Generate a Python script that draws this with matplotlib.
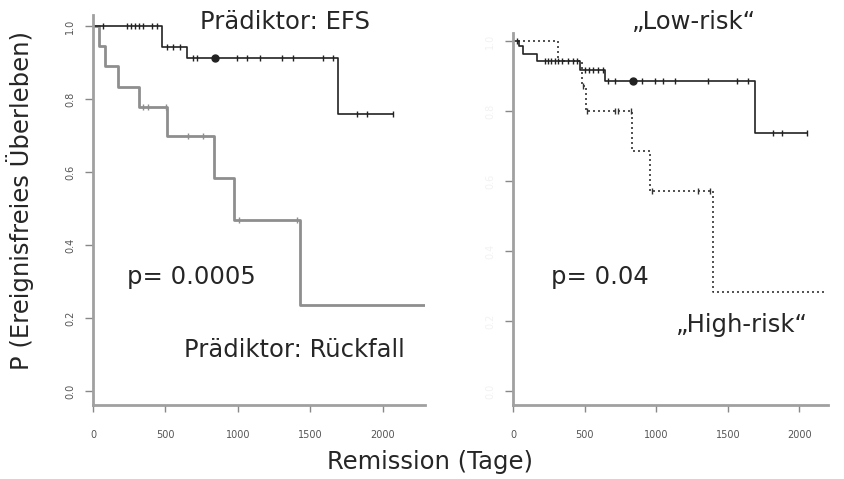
import numpy as np
import matplotlib
matplotlib.use('Agg')
import matplotlib.pyplot as plt

# Linkes Panel: Prädiktor EFS vs. Prädiktor Rückfall
efs_times = [0, 476, 648, 1690, 2069]
efs_surv = [1.0, 0.942, 0.912, 0.759, 0.759]
efs_cens = [69, 234, 262, 290, 317, 345, 407, 441, 510, 552, 600, 690, 717,
            993, 1062, 1152, 1303, 1379, 1586, 1655, 1821, 1890, 2069]
efs_blob = [841]

rel_times = [0, 38, 83, 172, 317, 510, 834, 972, 1428, 2290]
rel_surv = [1.0, 0.944, 0.889, 0.833, 0.778, 0.70, 0.584, 0.468, 0.236, 0.236]
rel_cens = [345, 379, 503, 655, 759, 1007, 1407]

# Rechtes Panel: Low-risk vs. High-risk
low_times = [0, 45, 70, 168, 469, 643, 1692, 2056]
low_surv = [1.0, 0.985, 0.962, 0.943, 0.917, 0.886, 0.737, 0.737]
low_cens = [28, 224, 245, 266, 290, 315, 340, 385, 420, 448, 503, 530, 560,
            595, 629, 664, 713, 902, 993, 1049, 1133, 1364, 1566, 1643,
            1818, 1881, 2056]
low_blob = [839]

high_times = [0, 312, 483, 510, 832, 958, 1399, 2182]
high_surv = [1.0, 0.943, 0.871, 0.80, 0.686, 0.571, 0.283, 0.283]
high_cens = [490, 517, 713, 734, 825, 972, 1294, 1378]

x_ticks = [0, 500, 1000, 1500, 2000]
y_ticks = [0.0, 0.2, 0.4, 0.6, 0.8, 1.0]

W, H = 844, 479


def surv_at(times, surv, t):
    idx = np.searchsorted(times, t, side='right') - 1
    return np.asarray(surv)[idx]


def km(ax, times, surv, cens, color, lw, ls='-', blob=()):
    ax.step(times, surv, where='post', color=color, lw=lw, ls=ls,
            solid_capstyle='butt')
    ax.plot(cens, surv_at(times, surv, cens), ls='none', marker='|',
            ms=5, mew=1.0, color=color)
    if len(blob):
        ax.plot(blob, surv_at(times, surv, blob), ls='none', marker='o',
                ms=5, color=color)


def style_axes(ax, xmax, ylim, ylabels=True):
    ax.set_xlim(0, xmax)
    ax.set_ylim(*ylim)
    for s in ['top', 'right']:
        ax.spines[s].set_visible(False)
    for s in ['left', 'bottom']:
        ax.spines[s].set_color('#a0a0a0')
        ax.spines[s].set_linewidth(2)
    ax.set_xticks(x_ticks)
    ax.set_xticklabels([str(v) for v in x_ticks])
    ax.set_yticks(y_ticks)
    ax.set_yticklabels([f'{v:.1f}' for v in y_ticks], rotation=90, va='center')
    ax.tick_params(axis='x', length=5, width=1, color='#888', pad=13,
                   labelsize=7, labelcolor='#555')
    ax.tick_params(axis='y', length=6, width=1, color='#888', pad=7,
                   labelsize=7, labelcolor='#555' if ylabels else '#f2f2f2')
    ax.set_facecolor('none')


fig = plt.figure(figsize=(W / 100, H / 100), dpi=100)
plt.rcParams['font.family'] = ['DejaVu Sans']

ax1 = fig.add_axes([93 / W, 1 - 405 / H, (425 - 93) / W, 390 / H])
km(ax1, rel_times, rel_surv, rel_cens, '#8e8e8e', 2.0)
km(ax1, efs_times, efs_surv, efs_cens, '#222222', 1.2, blob=efs_blob)
style_axes(ax1, 2290, (-0.038, 1.03))

ax2 = fig.add_axes([513 / W, 1 - 405 / H, (828 - 513) / W, 372 / H])
km(ax2, high_times, high_surv, high_cens, '#333333', 1.2, ls=(0, (1.2, 1.8)))
km(ax2, low_times, low_surv, low_cens, '#222222', 1.2, blob=low_blob)
style_axes(ax2, 2200, (-0.04, 1.023), ylabels=False)


def ftext(x, y, s, **kw):
    fig.text(x / W, 1 - y / H, s, ha='center', va='center', color='#262626',
             fontsize=17.5, **kw)


ftext(285, 22, 'Prädiktor: EFS')
ftext(294, 350, 'Prädiktor: Rückfall')
ftext(191, 277, 'p= 0.0005')
ftext(694, 22, '\u201eLow-risk\u201c')
ftext(600, 277, 'p= 0.04')
ftext(742, 325, '\u201eHigh-risk\u201c')
ftext(20, 200, 'P (Ereignisfreies Überleben)', rotation=90)
ftext(430, 462, 'Remission (Tage)')

fig.savefig('out.png', dpi=100)
